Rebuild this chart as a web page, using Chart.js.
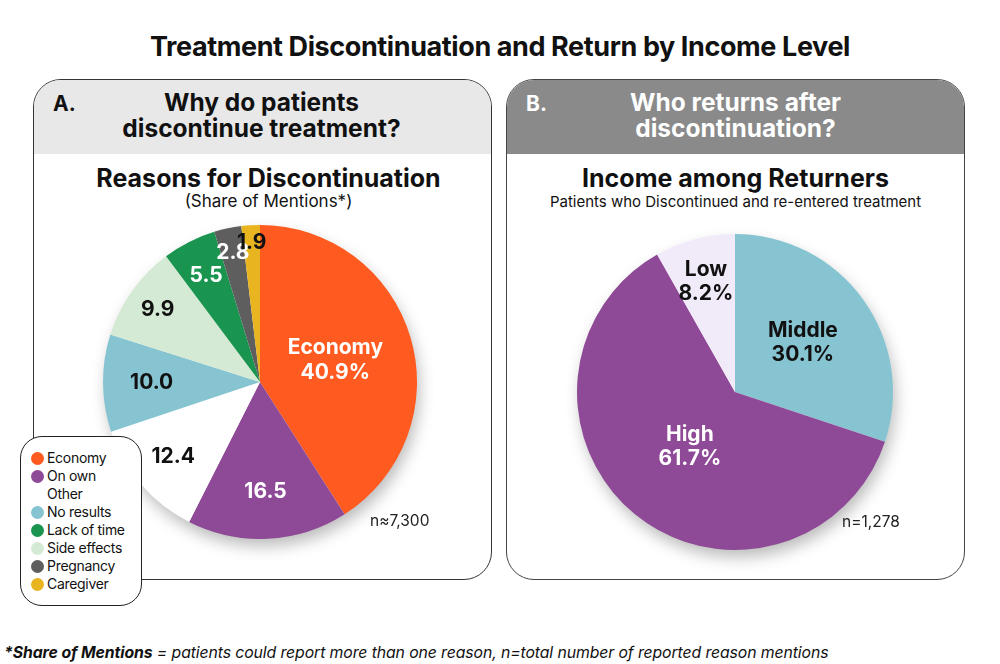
<!DOCTYPE html>
<html>
<head>
<meta charset="utf-8">
<script src="https://cdn.jsdelivr.net/npm/chart.js@4.4.1/dist/chart.umd.min.js"></script>
<style>
  html, body { margin:0; padding:0; background:#fff; width:1000px; height:664px; overflow:hidden; font-family: Inter, "Noto Sans", sans-serif; color:#111; }
  .abs { position:absolute; }
  #title { left:0; width:1000px; top:30px; text-align:center; font-weight:700; font-size:27px; letter-spacing:-0.4px; }
  .panel { position:absolute; top:79px; width:459px; height:501px; border:1px solid #333; border-radius:28px; overflow:hidden; box-sizing:border-box; background:#fff; }
  #pA { left:33px; }
  #pB { left:506px; border-color:#444; }
  .hdr { position:absolute; left:0; top:0; width:100%; height:74px; }
  #pA .hdr { background:#e8e8e8; }
  #pB .hdr { background:#8a8a8a; }
  .tag { position:absolute; left:19px; top:11px; font-weight:700; font-size:21px; }
  .htxt { position:absolute; left:0; width:100%; top:9px; text-align:center; font-weight:700; font-size:24.5px; line-height:26px; }
  #pA .htxt { left:-1px; }
  #pB .tag, #pB .htxt { color:#fff; }
  .sub1 { position:absolute; left:0; width:100%; top:83px; text-align:center; font-weight:700; font-size:25px; }
  #pA .sub1, #pA .sub2 { left:6px; }
  .sub2 { position:absolute; left:0; width:100%; top:112px; text-align:center; font-size:15px; }
  #pA .sub2 { font-size:17px; top:111px; }
  canvas { position:absolute; }
  .nlab { position:absolute; font-size:15.5px; color:#222; }
  #legend { left:20px; top:436px; width:122px; height:170px; border:1px solid #222; border-radius:22px; background:#fff; box-sizing:border-box; padding:12px 0 0 10px; }
  .li { height:18px; line-height:18px; font-size:14px; display:flex; align-items:center; letter-spacing:-0.3px; }
  .dot { width:13px; height:13px; border-radius:50%; margin-right:3px; flex:none; }
  #foot { left:4px; top:643px; font-size:15.8px; font-style:italic; letter-spacing:-0.1px; }
</style>
</head>
<body>
<div id="title" class="abs">Treatment Discontinuation and Return by Income Level</div>

<div id="pA" class="panel">
  <div class="hdr"></div>
  <div class="tag">A.</div>
  <div class="htxt">Why do patients<br>discontinue treatment?</div>
  <div class="sub1">Reasons for Discontinuation</div>
  <div class="sub2">(Share of Mentions*)</div>
</div>
<div id="pB" class="panel">
  <div class="hdr"></div>
  <div class="tag">B.</div>
  <div class="htxt">Who returns after<br>discontinuation?</div>
  <div class="sub1">Income among Returners</div>
  <div class="sub2">Patients who Discontinued and re-entered treatment</div>
</div>

<canvas id="c1" width="360" height="360" style="left:80px;top:202px;width:360px;height:360px"></canvas>
<canvas id="c2" width="360" height="360" style="left:555px;top:212px;width:360px;height:360px"></canvas>

<div class="nlab" style="left:370px;top:511px">n≈7,300</div>
<div class="nlab" style="left:842px;top:512px">n=1,278</div>

<div id="legend" class="abs"></div>

<div id="foot" class="abs"><b>*Share of Mentions</b> = patients could report more than one reason, n=total number of reported reason mentions</div>

<script>
// ---- Data ----
const reasonLabels = ["Economy", "On own", "Other", "No results", "Side effects", "Lack of time", "Pregnancy", "Caregiver"];
const reasonValues = [40.9, 16.5, 12.4, 10.0, 9.9, 5.5, 2.8, 1.9];
const legendOrder = ["Economy", "On own", "Other", "No results", "Lack of time", "Side effects", "Pregnancy", "Caregiver"];

const incomeLabels = ["Middle", "High", "Low"];
const incomeValues = [30.1, 61.7, 8.2];

// ---- Styles ----
const reasonColors = ["#ff5a1f", "#8e4a96", "#ffffff", "#86c4d2", "#d5ead4", "#1a9550", "#5e5e5e", "#e8b520"];
const reasonTextColors = ["#fff", "#fff", "#111", "#111", "#111", "#fff", "#fff", "#111"];
const reasonLabelRadius = [0.5, 0.7, 0.73, 0.69, 0.8, 0.76, 0.84, 0.89];
const incomeColors = ["#86c4d2", "#8e4a96", "#f1ebf9"];
const incomeTextColors = ["#111", "#fff", "#111"];
const incomeLabelRadius = [0.53, 0.45, 0.72];

const shadowPlugin = {
  id: 'pieShadow',
  beforeDatasetsDraw(chart) {
    const arc = chart.getDatasetMeta(0).data[0];
    if (!arc) return;
    const ctx = chart.ctx;
    ctx.save();
    ctx.shadowColor = 'rgba(0,0,0,0.28)';
    ctx.shadowBlur = 16;
    ctx.shadowOffsetX = 3;
    ctx.shadowOffsetY = 8;
    ctx.fillStyle = '#fff';
    ctx.beginPath();
    ctx.arc(arc.x, arc.y, arc.outerRadius - 1, 0, Math.PI * 2);
    ctx.fill();
    ctx.restore();
  }
};

function labelPlugin(texts, colors, radii, fontSize, lineH) {
  return {
    id: 'sliceLabels',
    afterDatasetsDraw(chart) {
      const ctx = chart.ctx;
      const meta = chart.getDatasetMeta(0);
      meta.data.forEach((arc, i) => {
        const mid = (arc.startAngle + arc.endAngle) / 2;
        const r = arc.outerRadius * radii[i];
        const x = arc.x + Math.cos(mid) * r;
        const y = arc.y + Math.sin(mid) * r;
        const lines = texts[i];
        ctx.save();
        ctx.fillStyle = colors[i];
        ctx.font = '700 ' + fontSize + 'px Inter, "Noto Sans", sans-serif';
        ctx.textAlign = 'center';
        ctx.textBaseline = 'middle';
        const y0 = y - (lines.length - 1) * lineH / 2;
        lines.forEach((t, k) => ctx.fillText(t, x, y0 + k * lineH));
        ctx.restore();
      });
    }
  };
}

const reasonTexts = reasonValues.map((v, i) => i === 0 ? [reasonLabels[i], v.toFixed(1) + '%'] : [v.toFixed(1)]);
const incomeTexts = incomeValues.map((v, i) => [incomeLabels[i], v.toFixed(1) + '%']);

function makePie(id, labels, values, colors, radius, plugins) {
  return new Chart(document.getElementById(id), {
    type: 'pie',
    data: { labels: labels, datasets: [{ data: values, backgroundColor: colors, borderWidth: 0 }] },
    options: {
      responsive: false,
      animation: false,
      radius: radius,
      rotation: 0,
      layout: { padding: 0 },
      plugins: { legend: { display: false }, tooltip: { enabled: false } },
      events: []
    },
    plugins: plugins
  });
}

makePie('c1', reasonLabels, reasonValues, reasonColors, 157,
  [shadowPlugin, labelPlugin(reasonTexts, reasonTextColors, reasonLabelRadius, 21, 25)]);
makePie('c2', incomeLabels, incomeValues, incomeColors, 158,
  [shadowPlugin, labelPlugin(incomeTexts, incomeTextColors, incomeLabelRadius, 21, 24)]);

// HTML legend
const lg = document.getElementById('legend');
legendOrder.forEach(name => {
  const idx = reasonLabels.indexOf(name);
  const row = document.createElement('div');
  row.className = 'li';
  const d = document.createElement('span');
  d.className = 'dot';
  d.style.background = reasonColors[idx];
  const t = document.createElement('span');
  t.textContent = name;
  row.appendChild(d); row.appendChild(t);
  lg.appendChild(row);
});
</script>
</body>
</html>
